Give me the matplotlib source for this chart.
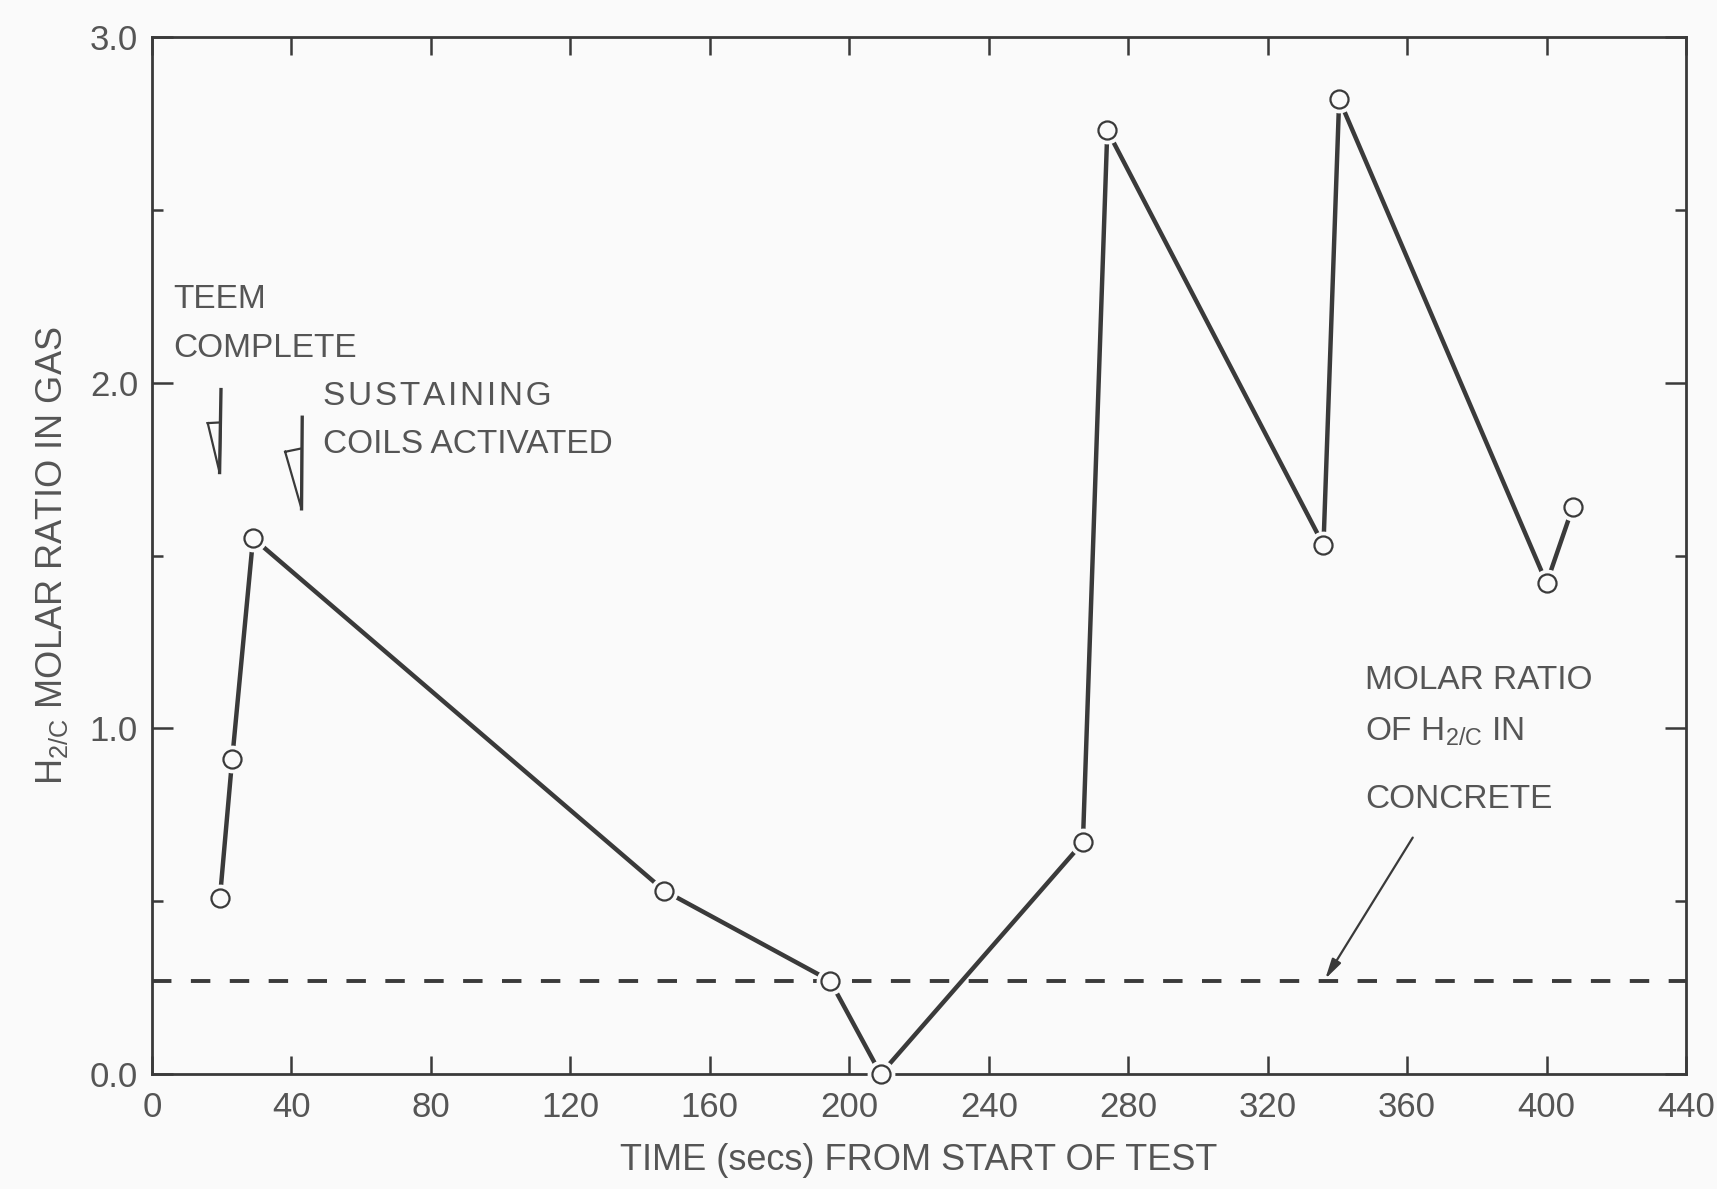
import matplotlib
matplotlib.use("Agg")
import matplotlib.pyplot as plt
from matplotlib import font_manager

# data
time_s = [19.5, 23, 29, 147, 194.5, 209, 267, 274, 336, 340.5, 400, 407.5]
h2c_ratio = [0.51, 0.91, 1.55, 0.53, 0.27, 0.0, 0.67, 2.73, 1.53, 2.82, 1.42, 1.64]
concrete_ratio = 0.27
x_ticks = list(range(0, 441, 40))
y_major = [0.0, 1.0, 2.0, 3.0]
y_minor = [0.5, 1.5, 2.5]

ink = "#3a3a3a"
text_ink = "#555555"

names = {f.name for f in font_manager.fontManager.ttflist}
if "Liberation Sans Narrow" in names:
    fam = ["Liberation Sans Narrow", "DejaVu Sans"]
else:
    fam = ["Liberation Sans", "DejaVu Sans"]
plt.rcParams["font.family"] = fam
plt.rcParams["mathtext.fontset"] = "custom"
plt.rcParams["mathtext.rm"] = fam[0]

fig = plt.figure(figsize=(17.17, 11.89), dpi=100, facecolor="#fafafa")
ax = fig.add_axes([0.0885, 0.0967, 0.8935, 0.8722])
ax.set_facecolor("#fafafa")

# concrete reference level
ax.plot([0, 440], [concrete_ratio, concrete_ratio], color=ink, lw=2.8,
        linestyle=(0, (5, 5)), zorder=2)

# measured ratio, with small gaps at each open circle
ax.plot(time_s, h2c_ratio, color=ink, lw=3.2, zorder=3)
ax.plot(time_s, h2c_ratio, linestyle="none", marker="o", markersize=20,
        markerfacecolor="#fafafa", markeredgecolor="none", zorder=4,
        clip_on=False)
ax.plot(time_s, h2c_ratio, linestyle="none", marker="o", markersize=13,
        markerfacecolor="#fafafa", markeredgecolor=ink, markeredgewidth=1.6,
        zorder=5, clip_on=False)

ax.set_xlim(0, 440)
ax.set_ylim(0, 3.0)
ax.set_xticks(x_ticks)
ax.set_xticklabels([str(t) for t in x_ticks])
ax.set_yticks(y_major)
ax.set_yticklabels([f"{v:.1f}" for v in y_major])
ax.set_yticks(y_minor, minor=True)

for s in ax.spines.values():
    s.set_linewidth(2.0)
    s.set_color(ink)

ax.tick_params(axis="x", which="major", direction="in", length=13, width=1.8,
               top=True, bottom=True, color=ink, labelsize=25,
               labelcolor=text_ink, pad=12)
ax.tick_params(axis="y", which="major", direction="in", length=15, width=1.8,
               left=True, right=True, color=ink, labelsize=25,
               labelcolor=text_ink, pad=10)
ax.tick_params(axis="y", which="minor", direction="in", length=8, width=1.8,
               left=True, right=True, color=ink)

ax.set_xlabel("TIME (secs) FROM START OF TEST", fontsize=26, color=text_ink,
              labelpad=14)
ax.set_ylabel(r"H$_{\mathregular{2/C}}$ MOLAR RATIO IN GAS", fontsize=26,
              color=text_ink, labelpad=14)

# annotations
ax.text(6, 2.24, "TEEM", fontsize=24, color=text_ink, va="center")
ax.text(6, 2.10, "COMPLETE", fontsize=24, color=text_ink, va="center")
ax.text(49, 1.96, "S U S T A I N I N G".replace(" ", "\u200a"), fontsize=24,
        color=text_ink, va="center")
ax.text(49, 1.82, "COILS ACTIVATED", fontsize=24, color=text_ink, va="center")

# half-open arrowheads
ax.plot([19.8, 19.4], [1.98, 1.74], color=ink, lw=2.4)
ax.plot([16.0, 19.7, 19.4, 16.0], [1.883, 1.885, 1.74, 1.883], color=ink, lw=1.6)
ax.plot([43.1, 42.9], [1.90, 1.635], color=ink, lw=2.4)
ax.plot([38.2, 43.0, 42.9, 38.2], [1.80, 1.81, 1.635, 1.80], color=ink, lw=1.6)

ax.text(348, 1.137, "MOLAR RATIO", fontsize=24, color=text_ink, va="center")
ax.text(348, 0.99, r"OF H$_{\mathregular{2/C}}$ IN", fontsize=24,
        color=text_ink, va="center")
ax.text(348, 0.795, "CONCRETE", fontsize=24, color=text_ink, va="center")
ax.annotate("", xy=(336.5, 0.275), xytext=(361.6, 0.684),
            arrowprops=dict(arrowstyle="-|>,head_length=1.2,head_width=0.3",
                            color=ink, lw=1.6, shrinkA=0, shrinkB=0))

fig.savefig("out.png", dpi=100, facecolor=fig.get_facecolor())
